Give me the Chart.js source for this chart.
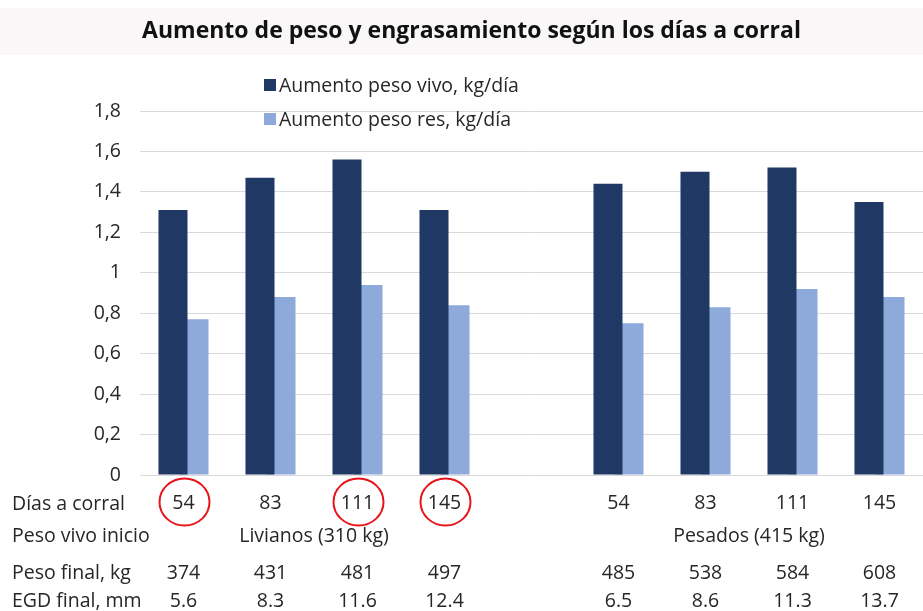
<!DOCTYPE html>
<html>
<head>
<meta charset="utf-8">
<script src="https://cdn.jsdelivr.net/npm/chart.js@4.4.1/dist/chart.umd.min.js"></script>
<style>
  html, body { margin: 0; padding: 0; background: #ffffff; }
  #wrap { width: 923px; height: 611px; }
</style>
</head>
<body>
<div id="wrap"><canvas id="c" width="923" height="611"></canvas></div>
<script>
// ---- Data ----
const diasCorral = ['54', '83', '111', '145', '', '54', '83', '111', '145'];
const aumentoVivo = [1.31, 1.47, 1.56, 1.31, null, 1.44, 1.50, 1.52, 1.35];
const aumentoRes  = [0.77, 0.88, 0.94, 0.84, null, 0.75, 0.83, 0.92, 0.88];
const pesoFinal = ['374', '431', '481', '497', '', '485', '538', '584', '608'];
const egdFinal  = ['5.6', '8.3', '11.6', '12.4', '', '6.5', '8.6', '11.3', '13.7'];
const grupos = ['Livianos (310 kg)', 'Pesados (415 kg)'];
const grupoDesde = [0, 5];
const grupoHasta = [3, 8];
const filaEtiquetas = ['Días a corral', 'Peso vivo inicio', 'Peso final, kg', 'EGD final, mm'];
const marcados = [0, 2, 3];
const serieNombres = ['Aumento peso vivo, kg/día', 'Aumento peso res, kg/día'];
const titulo = 'Aumento de peso y engrasamiento según los días a corral';

const FONT = "'Open Sans', 'Noto Sans', sans-serif";
const TXT = '#262626';
const FS = 19.5;

const bgPlugin = {
  id: 'bg',
  beforeDraw(chart) {
    const ctx = chart.ctx;
    ctx.save();
    ctx.fillStyle = '#ffffff';
    ctx.fillRect(0, 0, chart.width, chart.height);
    ctx.fillStyle = '#f9f7f8';
    ctx.fillRect(0, 8, chart.width, 47);
    ctx.restore();
  }
};

const legendPlugin = {
  id: 'customLegend',
  afterDraw(chart) {
    const ctx = chart.ctx;
    ctx.save();
    ctx.font = FS + 'px ' + FONT;
    ctx.textBaseline = 'middle';
    ctx.textAlign = 'left';
    const ys = [85, 119];
    chart.data.datasets.forEach((ds, i) => {
      ctx.fillStyle = ds.backgroundColor;
      ctx.fillRect(264, ys[i] - 6, 12, 12);
      ctx.fillStyle = TXT;
      ctx.fillText(ds.label, 279, ys[i] + 1);
    });
    ctx.restore();
  }
};

const tablePlugin = {
  id: 'table',
  afterDraw(chart) {
    const ctx = chart.ctx;
    const x = chart.scales.x;
    ctx.save();
    ctx.font = FS + 'px ' + FONT;
    ctx.fillStyle = TXT;
    ctx.textBaseline = 'middle';
    ctx.textAlign = 'left';
    const rowY = [504, 536, 573, 601];
    filaEtiquetas.forEach((t, i) => ctx.fillText(t, 12, rowY[i]));
    ctx.textAlign = 'center';
    grupos.forEach((g, i) => {
      const cx = (x.getPixelForValue(grupoDesde[i]) + x.getPixelForValue(grupoHasta[i])) / 2;
      ctx.fillText(g, cx, rowY[1]);
    });
    pesoFinal.forEach((v, i) => { if (v) ctx.fillText(v, x.getPixelForValue(i), rowY[2]); });
    egdFinal.forEach((v, i) => { if (v) ctx.fillText(v, x.getPixelForValue(i), rowY[3]); });
    ctx.strokeStyle = '#e8141b';
    ctx.lineWidth = 2;
    marcados.forEach(i => {
      ctx.beginPath();
      ctx.ellipse(x.getPixelForValue(i) + 1, 502, 25, 23.5, 0, 0, Math.PI * 2);
      ctx.stroke();
    });
    ctx.restore();
  }
};

new Chart(document.getElementById('c'), {
  type: 'bar',
  data: {
    labels: diasCorral,
    datasets: [
      { label: serieNombres[0], data: aumentoVivo, backgroundColor: '#203864',
        categoryPercentage: 0.483, barPercentage: 1.381 },
      { label: serieNombres[1], data: aumentoRes, backgroundColor: '#8eaadb',
        categoryPercentage: 0.483, barPercentage: 1.381 }
    ]
  },
  options: {
    responsive: false,
    animation: false,
    devicePixelRatio: 1,
    layout: { padding: { left: 20, right: 0, top: 0, bottom: 0 } },
    plugins: {
      legend: { display: false },
      tooltip: { enabled: false },
      title: {
        display: true,
        text: titulo,
        color: '#111111',
        font: { family: FONT, size: 23, weight: 'bold', lineHeight: 1.2 },
        padding: { top: 18, bottom: 65.4 }
      }
    },
    scales: {
      x: {
        offset: true,
        grid: { display: false, drawTicks: false },
        border: { display: false },
        ticks: { color: TXT, font: { family: FONT, size: FS }, padding: 17, maxRotation: 0, autoSkip: false },
        afterFit(s) { s.height = 136; }
      },
      y: {
        min: 0, max: 1.8,
        grid: { color: '#d9d9d9', lineWidth: 1, drawTicks: false },
        border: { display: false },
        ticks: {
          stepSize: 0.2,
          color: TXT,
          padding: 19,
          font: { family: FONT, size: FS },
          callback: v => (Math.round(v * 10) / 10).toString().replace('.', ',')
        },
        afterFit(s) { s.width = 120; }
      }
    }
  },
  plugins: [bgPlugin, legendPlugin, tablePlugin]
});
</script>
</body>
</html>
